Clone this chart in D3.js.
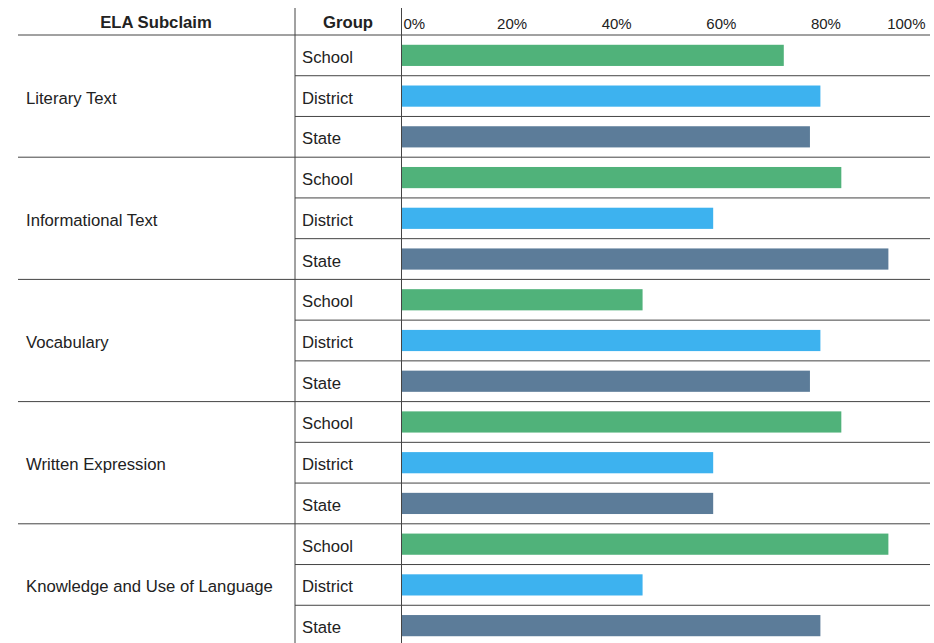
<!DOCTYPE html>
<html>
<head>
<meta charset="utf-8">
<script src="https://cdn.jsdelivr.net/npm/d3@7"></script>
<style>
  body { margin: 0; background: #fff; }
  svg { display: block; font-family: "Liberation Sans", Arial, Helvetica, sans-serif; }
</style>
</head>
<body>
<div id="chart"></div>
<script>
// chart data
const subclaims = ["Literary Text", "Informational Text", "Vocabulary", "Written Expression", "Knowledge and Use of Language"];
const groups = ["School", "District", "State"];
const schoolVals = [73, 84, 46, 84, 93];
const districtVals = [80, 59.5, 80, 59.5, 46];
const stateVals = [78, 93, 78, 59.5, 80];
const tickVals = [0, 20, 40, 60, 80, 100];

const width = 934, height = 643;
const headerH = 35, bottom = 646;
const leftX = 18, groupX = 295, barX = 402, rightX = 930;
const groupColors = {School: "#50b27a", District: "#3db2ef", State: "#5c7c99"};

// flatten into one row per (subclaim, group)
let rows = [];
subclaims.forEach(function(s, i) {
    rows.push({claim: s, group: "School", value: schoolVals[i], key: s + "|School"});
    rows.push({claim: s, group: "District", value: districtVals[i], key: s + "|District"});
    rows.push({claim: s, group: "State", value: stateVals[i], key: s + "|State"});
});

let svg = d3.select("#chart")
    .append("svg")
    .attr("width", width)
    .attr("height", height);

let x = d3.scaleLinear()
    .domain([0, 100])
    .range([barX, 925]);

// row slots (for lines/labels) and bar bands inside them
let rowY = d3.scaleBand()
    .domain(rows.map(d => d.key))
    .range([headerH, bottom])
    .padding(0);

let barY = d3.scaleBand()
    .domain(rows.map(d => d.key))
    .range([headerH, bottom])
    .paddingInner(0.48)
    .paddingOuter(0.24);

let claimY = d3.scaleBand()
    .domain(subclaims)
    .range([headerH, bottom])
    .padding(0);

// bars
svg.append("g").selectAll("rect")
    .data(rows)
    .enter()
    .append("rect")
    .attr("x", x(0))
    .attr("y", d => barY(d.key))
    .attr("width", d => x(d.value) - x(0))
    .attr("height", barY.bandwidth())
    .attr("fill", d => groupColors[d.group]);

// row separators inside each group
let lines = svg.append("g").attr("stroke", "#444").attr("stroke-width", 1);
rows.forEach(function(d, i) {
    if (i % 3 !== 0) {
        lines.append("line")
            .attr("x1", groupX).attr("x2", rightX)
            .attr("y1", rowY(d.key)).attr("y2", rowY(d.key));
    }
});
// group separators, full width
subclaims.forEach(function(s) {
    lines.append("line")
        .attr("x1", leftX).attr("x2", rightX)
        .attr("y1", claimY(s)).attr("y2", claimY(s));
});
// vertical column lines
[groupX, barX - 0.5].forEach(function(vx) {
    lines.append("line")
        .attr("x1", vx).attr("x2", vx)
        .attr("y1", 8).attr("y2", height);
});

// headers
svg.append("text")
    .attr("x", 156).attr("y", 28)
    .attr("text-anchor", "middle")
    .style("font-size", "16.7px").style("font-weight", "bold")
    .attr("fill", "#222")
    .text("ELA Subclaim");
svg.append("text")
    .attr("x", 348).attr("y", 28)
    .attr("text-anchor", "middle")
    .style("font-size", "16.7px").style("font-weight", "bold")
    .attr("fill", "#222")
    .text("Group");

// percent axis along the top
let axis = svg.append("g")
    .attr("transform", "translate(0, 29)")
    .call(d3.axisTop(x).tickValues(tickVals).tickSize(0).tickPadding(0).tickFormat(d => d + "%"));
axis.select(".domain").remove();
axis.selectAll("text")
    .style("font-size", "15px")
    .style("font-family", "Liberation Sans, Arial, sans-serif")
    .attr("fill", "#222")
    .attr("dy", 0)
    .attr("text-anchor", (d, i) => i === 0 ? "start" : (i === tickVals.length - 1 ? "end" : "middle"))
    .attr("dx", (d, i) => i === 0 ? 1 : (i === tickVals.length - 1 ? 0 : 5));

// group labels
svg.append("g").selectAll("text")
    .data(rows)
    .enter()
    .append("text")
    .attr("x", 302)
    .attr("y", d => rowY(d.key) + rowY.bandwidth() / 2 + 7.5)
    .style("font-size", "16.7px")
    .attr("fill", "#222")
    .text(d => d.group);

// subclaim labels
svg.append("g").selectAll("text")
    .data(subclaims)
    .enter()
    .append("text")
    .attr("x", 26)
    .attr("y", d => claimY(d) + claimY.bandwidth() / 2 + 7.5)
    .style("font-size", "16.7px")
    .attr("fill", "#222")
    .text(d => d);
</script>
</body>
</html>
